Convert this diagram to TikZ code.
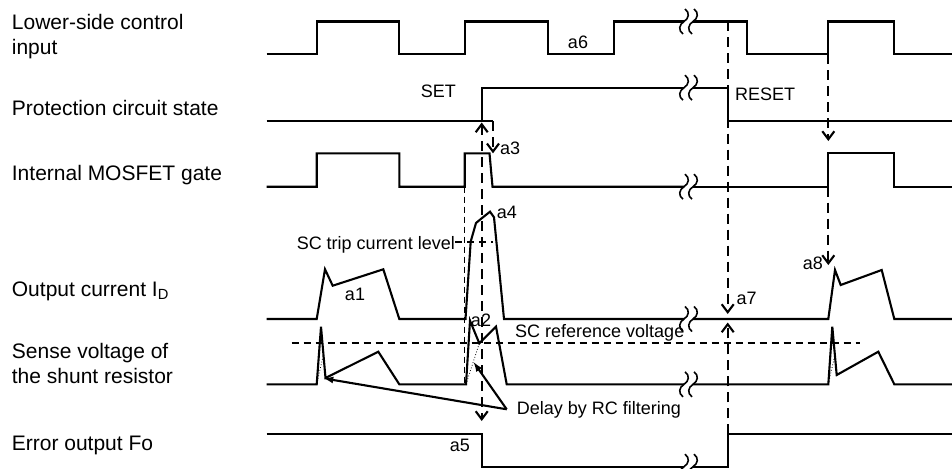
\documentclass[tikz,border=0pt]{standalone}
\usepackage{fontspec}
\setmainfont{Liberation Sans}
\usetikzlibrary{arrows.meta}
\begin{document}
\begin{tikzpicture}[x=1pt,y=-1pt,
  sig/.style={line width=2.1pt},
  dsh/.style={line width=2.1pt, dash pattern=on 10pt off 6pt},
  tdsh/.style={line width=1.4pt, dash pattern=on 6pt off 4pt},
  refl/.style={line width=1.7pt, dash pattern=on 7pt off 5pt},
  dotl/.style={line width=0.8pt, dotted},
  barb/.style={-{Straight Barb[length=8pt,width=12pt]}},
  dbarb/.style={{Straight Barb[length=8pt,width=12pt]}-{Straight Barb[length=8pt,width=12pt]}},
  dlarr/.style={line width=2.1pt, -{Latex[length=10pt,width=7pt]}},
  lab/.style={font=\fontsize{21}{24}\selectfont, anchor=base west, inner sep=0pt},
  ann/.style={font=\fontsize{18}{21}\selectfont, inner sep=0pt},
  brk/.pic={\foreach \o in {-4.5,4.5}{\draw[line width=1.6pt] (\o+1,-12.5) .. controls (\o+6,-9) and (\o+5,-3) .. (\o,0) .. controls (\o-5,3) and (\o-6,9) .. (\o-1,12.5);}}
]
\useasboundingbox (0,0) rectangle (952,468);

% left labels
\node[lab] (l1) at (11.7,29.3) {Lower-side control};
\node[lab] (l1b) at (11.7,54.3) {input};
\node[lab] (l2) at (11.7,115) {Protection circuit state};
\node[lab] (l3) at (11.7,180) {Internal MOSFET gate};
\node[lab] (l4) at (11.7,296.7) {Output current I\textsubscript{D}};
\node[lab] (l5) at (11.7,358.3) {Sense voltage of};
\node[lab] (l5b) at (11.7,383.3) {the shunt resistor};
\node[lab] (l6) at (11.7,450) {Error output Fo};

% row 1: lower-side control input
\draw[sig] (266.7,54.3) -- (316.7,54.3) -- (316.7,21.5) -- (399.3,21.5) -- (399.3,54.3) -- (464.7,54.3) -- (464.7,21.5) -- (548,21.5) -- (548,54.3) -- (614,54.3) -- (614,21.5) -- (684,21.5);
\draw[sig] (693,21.5) -- (746.7,21.5) -- (746.7,54.3) -- (828.3,54.3) -- (828.3,21.5) -- (894.3,21.5) -- (894.3,54.3) -- (952,54.3);
\pic at (688.5,21.5) {brk};

% row 2: protection circuit state
\draw[sig] (266.7,121) -- (481.7,121) -- (481.7,87.7) -- (684,87.7);
\draw[sig] (693,87.7) -- (727.7,87.7) -- (727.7,121) -- (952,121);
\pic at (688.5,87.7) {brk};

% row 3: internal MOSFET gate
\draw[sig] (266.7,186.7) -- (316.7,186.7) -- (316.7,153.3) -- (399.3,153.3) -- (399.3,186.7) -- (464.7,186.7) -- (464.7,153.3) -- (489.5,153.3) -- (492.5,186.7) -- (684,186.7);
\draw[sig] (693,186.7) -- (828.3,186.7) -- (828.3,153.3) -- (894.3,153.3) -- (894.3,186.7) -- (952,186.7);
\pic at (688.5,186.7) {brk};

% row 4: output current
\draw[sig] (266.7,319) -- (316.7,319) -- (325,269.3) -- (332.7,285.7) -- (383.3,269.3) -- (399.3,319) -- (465.5,319) -- (470.7,241.5) -- (476,223) -- (481.7,218.3) -- (490,211.7) -- (494,217.3) -- (504,319) -- (684,319);
\draw[sig] (693,319) -- (828.3,319) -- (835,270) -- (840.7,285) -- (881.7,270) -- (894.3,319) -- (952,319);
\pic at (688.5,319) {brk};

% row 5: sense voltage
\draw[sig] (266.7,384.3) -- (316.7,384.3) -- (321,326.7) -- (325.5,378) -- (378.3,351.7) -- (399.3,384.3) -- (466,384.3) -- (470,320.7) -- (479.3,343.3) -- (496,326.7) -- (506.7,384.3) -- (684,384.3);
\draw[sig] (693,384.3) -- (828.3,384.3) -- (832.3,326.7) -- (836.7,375) -- (878.3,351.7) -- (894.3,384.3) -- (952,384.3);
\draw[dotl] (316.7,384.3) -- (324,352);
\draw[dotl] (466,384.3) -- (479.3,343.3);
\draw[dotl] (828.3,384.3) -- (835.5,352);
\pic at (688.5,384.3) {brk};

% row 6: error output
\draw[sig] (266.7,434.3) -- (481.7,434.3) -- (481.7,466.7) -- (684,466.7);
\draw[sig] (693,466.7) -- (727.7,466.7) -- (727.7,434.3) -- (952,434.3);
\pic at (688.5,466.7) {brk};

% annotations
\node[ann, anchor=base] (a6) at (578,48.5) {a6};
\node[ann, anchor=base east] (set) at (456,97.2) {SET};
\node[ann, anchor=base west] (reset) at (735,100.2) {RESET};
\node[ann, anchor=base west] (a3) at (500,154.8) {a3};
\node[ann, anchor=base west] (a4) at (496.7,218.8) {a4};
\node[ann, anchor=base east] (trip) at (455,249.8) {SC trip current level};
\node[ann, anchor=base] (a1) at (355,300.3) {a1};
\node[ann, anchor=base] (a2) at (481,326.7) {a2};
\node[ann, anchor=base west] (ref) at (515,337) {SC reference voltage};
\node[ann, anchor=base east] (a8) at (823,269.5) {a8};
\node[ann, anchor=base west] (a7) at (736.5,304) {a7};
\node[ann, anchor=base west] (delay) at (516.7,414.5) {Delay by RC filtering};
\node[ann, anchor=base east] (a5) at (470,451.7) {a5};

% reference levels
\coordinate (tripE) at (493,242.3);
\draw[refl] (trip.east |- tripE) -- (tripE);
\coordinate (refW) at (291.7,343.3);
\coordinate (refE) at (860,343.3);
\draw[refl] (refW) -- (refE);

% a3 and protection arrows
\coordinate (setA) at (481.7,121.3);
\coordinate (setB) at (493,121.3);
\coordinate (a3tip) at (493,153.3);
\draw[sig] (setA) -- (setB);
\draw[dsh,barb] (setB) -- (a3tip);
\coordinate (upTip) at (481.7,122.5);
\coordinate (dnTip) at (481.7,421);
\draw[dsh,dbarb] (upTip) -- (dnTip);

% thin dashed gate-to-sense
\coordinate (g2) at (464.7,186.7);
\coordinate (s2) at (464.7,384.3);
\draw[tdsh] (g2) -- (s2);

% reset arrows (a7)
\coordinate (r1) at (727.7,21.5);
\coordinate (a7d) at (727.7,314);
\coordinate (a7u) at (727.7,322.5);
\coordinate (foR) at (727.7,434.3);
\draw[dsh,barb] (r1) -- (a7d);
\draw[dsh,barb] (foR) -- (a7u);

% restart arrows (a8)
\coordinate (in3) at (828.3,54.3);
\coordinate (in3t) at (828.3,141);
\coordinate (g3) at (828.3,186.7);
\coordinate (a8t) at (828.3,265);
\draw[dsh,barb] (in3) -- (in3t);
\draw[dsh,barb] (g3) -- (a8t);

% delay arrows
\coordinate (dstart) at (506.7,409.3);
\coordinate (d1) at (323.3,378.3);
\coordinate (d2) at (473.3,361.7);
\draw[dlarr] (dstart) -- (d1);
\draw[dlarr] (dstart) -- (d2);
\end{tikzpicture}
\end{document}
